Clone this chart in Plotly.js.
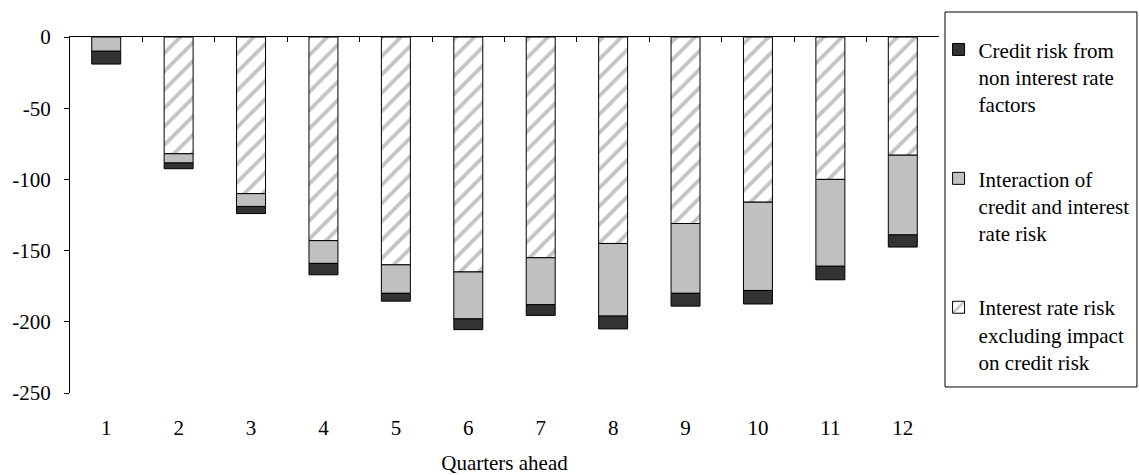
<!DOCTYPE html>
<html>
<head>
<meta charset="utf-8">
<script src="https://cdn.plot.ly/plotly-3.0.1.min.js"></script>
<style>html,body{margin:0;padding:0;background:#fff;}#chart{width:1139px;height:475px;}</style>
</head>
<body>
<div id="chart"></div>
<script>
const quarters = [1,2,3,4,5,6,7,8,9,10,11,12];
const interestRateRisk = [0,-82,-110,-143,-160,-165,-155,-145,-131,-116,-100,-83];
const interaction = [-10,-6.5,-9,-16,-20,-33,-33,-51,-49,-62,-61,-56];
const creditRisk = [-9,-4,-5,-8,-5.5,-7.5,-7.5,-9,-9,-9.5,-9.5,-8.5];
const seriesNames = [
  "Credit risk from<br>non interest rate<br>factors",
  "Interaction of<br>credit and interest<br>rate risk",
  "Interest rate risk<br>excluding impact<br>on credit risk"
];
const yTickVals = [0,-50,-100,-150,-200,-250];
const yTickText = ["0","-50","-100","-150","-200","-250"];
const xTitle = "Quarters ahead";

const font = "'Liberation Serif', 'Times New Roman', Times, serif";
const lineStyle = {color:'#000', width:1};

const traces = [
  {type:'bar', x:quarters, y:interestRateRisk, name:seriesNames[2], legendgroup:'c', legendrank:3,
   marker:{color:'#ffffff', line:lineStyle, pattern:{shape:'/', fgcolor:'#c4c4c4', bgcolor:'#ffffff', size:13, solidity:0.3}}},
  {type:'bar', x:quarters, y:interaction, name:seriesNames[1], legendgroup:'b', legendrank:2,
   marker:{color:'#c0c0c0', line:lineStyle}},
  {type:'bar', x:quarters, y:creditRisk, name:seriesNames[0], legendgroup:'a', legendrank:1,
   marker:{color:'#333333', line:lineStyle}},
  {type:'scatter', x:[1], y:[null], xaxis:'x2', showlegend:false, hoverinfo:'skip'}
];

const layout = {
  width:1139, height:475,
  margin:{l:70, r:200, t:37, b:82, autoexpand:false},
  paper_bgcolor:'#fff', plot_bgcolor:'#fff',
  font:{family:font, size:21, color:'#000'},
  barmode:'relative', bargap:0.6,
  showlegend:true,
  legend:{x:0.9995, xanchor:'left', y:1.0216, yanchor:'top', valign:'top', maxheight:470,
    traceorder:'grouped', tracegroupgap:44, borderwidth:0, bgcolor:'rgba(0,0,0,0)',
    font:{family:font, size:21, color:'#000'}, itemwidth:30},
  xaxis:{range:[0.5,12.5], tickmode:'array', tickvals:quarters, ticktext:quarters.map(String),
    ticks:'', showline:false, showgrid:false, zeroline:false, ticklabelstandoff:20, automargin:false,
    tickfont:{family:font, size:21},
    title:{text:xTitle, font:{family:font, size:21}, standoff:21}},
  xaxis2:{overlaying:'x', side:'top', range:[0.5,12.5], matches:'x', tickmode:'array',
    tickvals:[0.5,1.5,2.5,3.5,4.5,5.5,6.5,7.5,8.5,9.5,10.5,11.5,12.5], showticklabels:false,
    ticks:'inside', ticklen:5, tickcolor:'#000', showline:true, linecolor:'#000', linewidth:1,
    showgrid:false, zeroline:false},
  yaxis:{range:[-250,0], tickmode:'array', tickvals:yTickVals, ticktext:yTickText, automargin:false,
    ticks:'outside', ticklen:5, tickcolor:'#000',
    showline:true, linecolor:'#000', linewidth:1, showgrid:false, zeroline:false,
    ticklabelstandoff:9, tickfont:{family:font, size:21}},
  shapes:[{type:'rect', xref:'paper', yref:'paper', x0:1.0069, x1:1.2278, y0:0.0169, y1:1.0702,
    line:{color:'#000', width:1}, fillcolor:'rgba(0,0,0,0)'}]
};

Plotly.newPlot('chart', traces, layout, {displayModeBar:false, staticPlot:true});
</script>
</body>
</html>
